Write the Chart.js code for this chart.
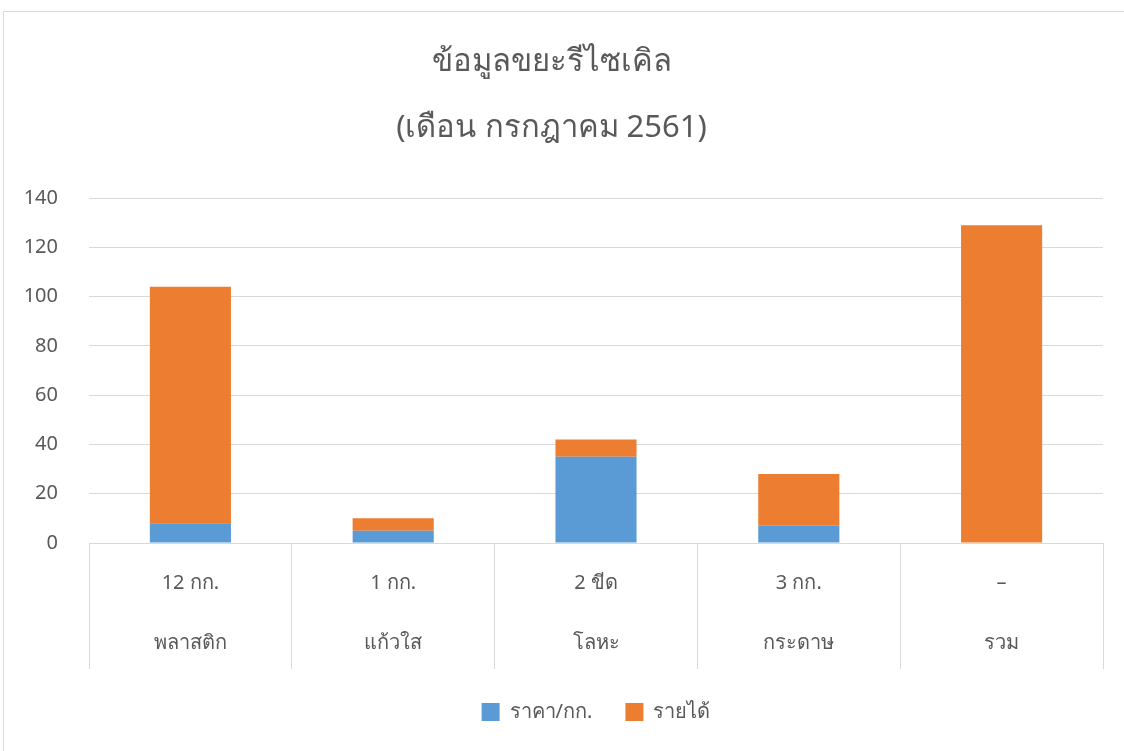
<!DOCTYPE html>
<html lang="th">
<head>
<meta charset="utf-8">
<title>ข้อมูลขยะรีไซเคิล</title>
<script src="https://cdn.jsdelivr.net/npm/chart.js@4/dist/chart.umd.min.js"></script>
<style>
  html, body { margin: 0; padding: 0; background: #fff; overflow: hidden; }
  #frame {
    position: absolute; left: 3px; top: 11px;
    width: 1200px; height: 800px;
    border: 1px solid #d9d9d9;
  }
  #chart { position: absolute; left: 0; top: 0; }
</style>
</head>
<body>
<div id="frame"></div>
<canvas id="chart" width="1124" height="751"></canvas>
<script>
// ข้อมูล
const amounts = ["12 กก.", "1 กก.", "2 ขีด", "3 กก.", "–"];
const materials = ["พลาสติก", "แก้วใส", "โลหะ", "กระดาษ", "รวม"];
const pricePerKg = [8, 5, 35, 7, 0];
const income = [96, 5, 7, 21, 129];

const seriesNames = ["ราคา/กก.", "รายได้"];
const seriesColors = ["#5b9bd5", "#ed7d31"];

const textColor = '#595959';
const lineColor = '#d9d9d9';
const fontFamily = "'Noto Sans', 'DejaVu Sans', sans-serif";

document.addEventListener('DOMContentLoaded', () => {
  const ctx = document.getElementById('chart').getContext('2d');

  // label สองบรรทัด: ปริมาณ / ประเภท
  const labels = amounts.map((a, i) => [a, materials[i]]);

  new Chart(ctx, {
    type: 'bar',
    data: {
      labels: labels,
      datasets: [
        { label: seriesNames[0], data: pricePerKg, backgroundColor: seriesColors[0] },
        { label: seriesNames[1], data: income, backgroundColor: seriesColors[1] }
      ]
    },
    options: {
      responsive: false,
      animation: false,
      devicePixelRatio: 1,
      layout: { padding: { left: 0, right: 21, top: 0, bottom: 19 } },
      datasets: { bar: { categoryPercentage: 1, barPercentage: 0.4 } },
      plugins: {
        title: {
          display: true,
          text: ['ข้อมูลขยะรีไซเคิล', '(เดือน กรกฎาคม 2561)'],
          color: textColor,
          font: { family: fontFamily, size: 31, weight: 'normal', lineHeight: 2.13 },
          padding: { top: 29, bottom: 37 }
        },
        legend: {
          position: 'bottom',
          fullSize: false,
          labels: {
            color: textColor,
            boxWidth: 18,
            boxHeight: 18,
            padding: 33,
            font: { family: fontFamily, size: 20 }
          }
        },
        tooltip: { enabled: false }
      },
      scales: {
        x: {
          stacked: true,
          border: { display: true, color: lineColor },
          grid: {
            offset: true,
            drawOnChartArea: false,
            color: lineColor,
            tickLength: 126
          },
          ticks: {
            color: textColor,
            padding: -116,
            maxRotation: 0,
            font: { family: fontFamily, size: 20, lineHeight: 3 }
          },
          afterFit: (s) => { s.height = 126; }
        },
        y: {
          stacked: true,
          min: 0,
          max: 140,
          border: { display: false },
          grid: { color: lineColor, drawTicks: false },
          ticks: {
            stepSize: 20,
            color: textColor,
            padding: 31,
            font: { family: fontFamily, size: 20 }
          },
          afterFit: (s) => { s.width = 89; }
        }
      }
    }
  });
});
</script>
</body>
</html>
